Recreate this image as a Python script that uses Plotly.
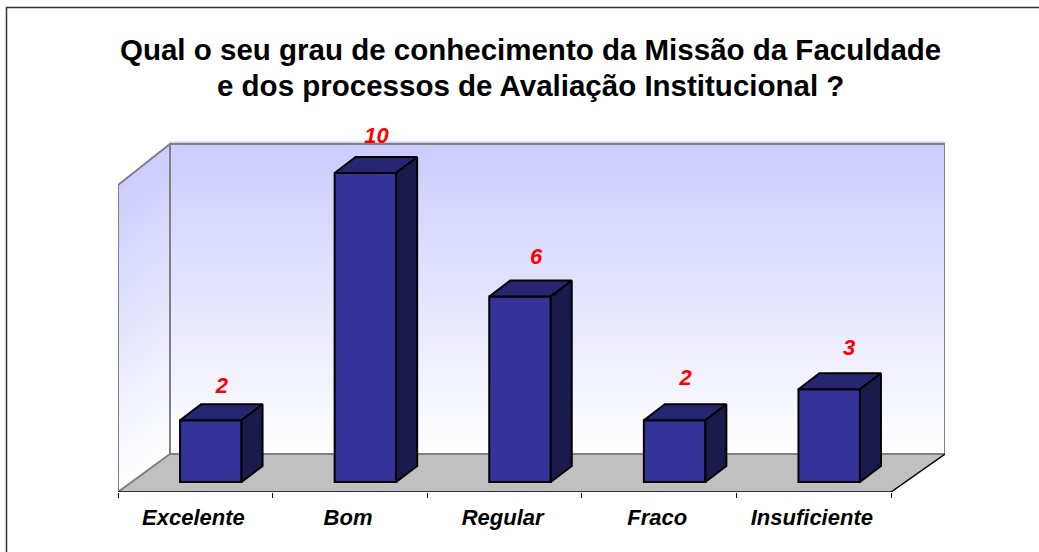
import numpy as np
import plotly.graph_objects as go

categories = ["Excelente", "Bom", "Regular", "Fraco", "Insuficiente"]
values = [2, 10, 6, 2, 3]
title_lines = ["Qual o seu grau de conhecimento da Missão da Faculdade",
               "e dos processos de Avaliação Institucional ?"]

W, H = 1039, 552
L, R, T, B = 118, 945, 100, 492      # plot box in page pixels
UX = (891 - 118) / 5                 # px per category
BASE_PX = 482
UY = (482 - 173) / 10                # px per value unit
XMIN = -0.5
XMAX = XMIN + (R - L) / UX
YMIN = (BASE_PX - B) / UY
YMAX = (BASE_PX - T) / UY


def xd(px):
    return XMIN + (px - L) / UX


def yd(px):
    return (BASE_PX - px) / UY


def xp(px):
    return (px - L) / (R - L)


def yp(px):
    return (B - px) / (B - T)


BAR_SHIFT = 15.5 / UX
BAR_W = 61.5 / UX
DX = 21 / UX
DY = 16 / UY
LABEL_DX = [11, 11, 16, 11, 20]
LABEL_DY = [33, 36, 38, 41, 40]

FRONT, TOP, SIDE = "#333399", "#262673", "#1A1A4D"
GRID = "#808080"

fig = go.Figure()
cs = [[0, "#FFFFFF"], [1, "#CCCCFF"]]

# back wall gradient
ys = np.linspace(144, 454, 63)
fig.add_trace(go.Heatmap(x=[xd(170), xd(945)], y=[yd(v) for v in ys],
                         z=[[(454 - v) / 310] * 2 for v in ys],
                         colorscale=cs, zmin=0, zmax=1, showscale=False,
                         zsmooth="best", hoverinfo="skip"))
# left wall gradient (sheared)
xs = np.arange(118, 171, 4.0)
ys2 = np.arange(144, 493, 4.0)
zl = []
for v in ys2:
    row = []
    for u in xs:
        f = (u - 118) / 52
        top, bot = 185 + (144 - 185) * f, 492 + (454 - 492) * f
        row.append(float(np.clip((bot - v) / (bot - top), 0, 1)))
    zl.append(row)
fig.add_trace(go.Heatmap(x=[xd(u) for u in xs], y=[yd(v) for v in ys2], z=zl,
                         colorscale=cs, zmin=0, zmax=1, showscale=False,
                         zsmooth="best", hoverinfo="skip"))


def poly(px, py, fill=None, line=None, width=2, axes=("x", "y")):
    fig.add_trace(go.Scatter(x=[xd(a) for a in px], y=[yd(b) for b in py],
                             mode="lines", fill="toself" if fill else None,
                             fillcolor=fill,
                             line=dict(color=line or "rgba(0,0,0,0)", width=width),
                             hoverinfo="skip", showlegend=False,
                             xaxis=axes[0], yaxis=axes[1]))


# white corner above the sheared wall
poly([118, 170, 170, 118, 118], [185, 143, 138, 138, 185], fill="#FFFFFF")
# floor
poly([118, 891, 945, 170, 118], [492, 492, 454, 454, 492], fill="#C0C0C0")
# wall edges
poly([118, 118, 170, 945, 945], [492, 185, 144, 144, 454], line=GRID)
poly([170, 170], [144, 454], line=GRID)
poly([118, 170, 945], [492, 454, 454], line=GRID)
# floor front edges
poly([118, 891, 945], [492, 492, 454], line="#000000", width=1.5)

# overlay: bars
x_pos = [i + BAR_SHIFT for i in range(len(values))]
fig.add_trace(go.Bar(x=x_pos, y=values, width=BAR_W, base=0,
                     marker=dict(color=FRONT, line=dict(color="#000000", width=2)),
                     xaxis="x2", yaxis="y2", hoverinfo="skip", showlegend=False))
for xc, v in zip(x_pos, values):
    x0, x1 = xc - BAR_W / 2, xc + BAR_W / 2
    for xs_, ys_, col in [
        ([x0, x0 + DX, x1 + DX, x1, x0], [v, v + DY, v + DY, v, v], TOP),
        ([x1, x1 + DX, x1 + DX, x1, x1], [0, DY, v + DY, v, 0], SIDE),
    ]:
        fig.add_trace(go.Scatter(x=xs_, y=ys_, mode="lines", fill="toself", fillcolor=col,
                                 line=dict(color="#000000", width=2), xaxis="x2", yaxis="y2",
                                 hoverinfo="skip", showlegend=False))
fig.add_trace(go.Scatter(
    x=[xc + d / UX for xc, d in zip(x_pos, LABEL_DX)],
    y=[v + d / UY for v, d in zip(values, LABEL_DY)],
    mode="text", text=[str(v) for v in values], textposition="middle center",
    textfont=dict(family="Liberation Sans", size=22, color="#FF0000", weight="bold", style="italic"),
    xaxis="x2", yaxis="y2", cliponaxis=False, hoverinfo="skip", showlegend=False))

fig.update_layout(
    width=W, height=H, autosize=False, paper_bgcolor="#FFFFFF", plot_bgcolor="rgba(0,0,0,0)",
    margin=dict(l=L, r=W - R, t=T, b=H - B, pad=0), showlegend=False,
    font=dict(family="Liberation Sans", color="#000000"),
    xaxis=dict(range=[XMIN, XMAX], showgrid=False, zeroline=False, showline=False,
               tickmode="array", tickvals=[i - 0.012 for i in range(len(categories))], ticktext=categories,
               ticks="", ticklabelstandoff=10,
               tickfont=dict(family="Liberation Sans", size=22, weight="bold", style="italic", color="#000000"),
               minor=dict(tickmode="array", tickvals=[i - 0.5 for i in range(len(categories) + 1)],
                          ticks="outside", ticklen=5, tickwidth=1, tickcolor="#000000", showgrid=False)),
    yaxis=dict(range=[YMIN, YMAX], visible=False),
    xaxis2=dict(range=[XMIN, XMAX], overlaying="x", visible=False),
    yaxis2=dict(range=[YMIN, YMAX], overlaying="y", visible=False),
    annotations=[dict(text="<b>" + line + "</b>", xref="paper", yref="paper",
                      x=xp(530), y=yp(py), xanchor="center", yanchor="middle",
                      showarrow=False, align="center",
                      font=dict(family="Liberation Sans", size=29.5, color="#000000"))
                 for line, py in zip(title_lines, [50, 86])],
    shapes=[dict(type="line", xref="paper", yref="paper", x0=xp(6), x1=xp(1039),
                 y0=yp(7.5), y1=yp(7.5), line=dict(color="#333333", width=1.5)),
            dict(type="line", xref="paper", yref="paper", x0=xp(6.5), x1=xp(6.5),
                 y0=yp(7), y1=yp(552), line=dict(color="#333333", width=1.5))],
)
fig.write_html("out.html", config={"displayModeBar": False},
               post_script="document.body.style.margin='0';document.body.style.overflow='hidden';")
